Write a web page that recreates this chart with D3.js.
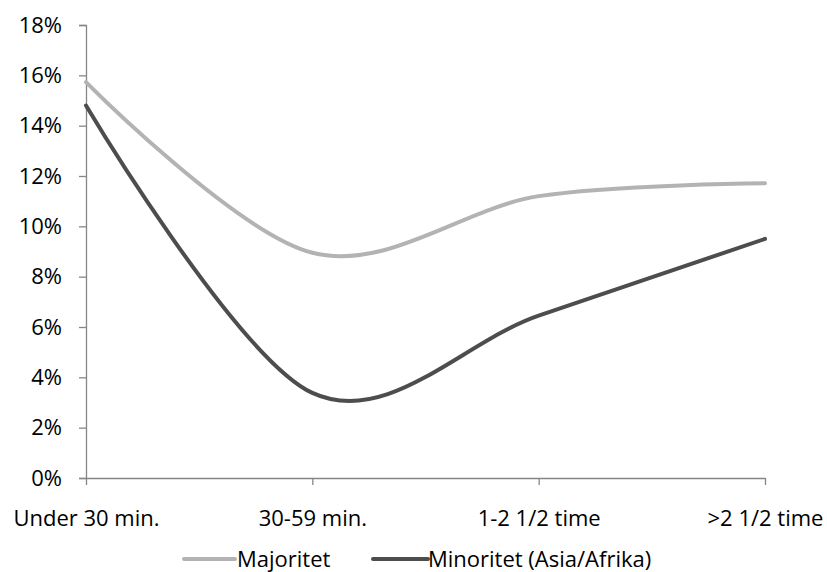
<!DOCTYPE html>
<html><head><meta charset="utf-8">
<script src="https://cdn.jsdelivr.net/npm/d3@7"></script>
<style>body{margin:0;background:#fff}svg{display:block}text{font-family:"Open Sans",sans-serif;fill:#000}</style>
</head><body>
<svg id="c" width="827" height="572"></svg>
<script>
const categories = ["Under 30 min.", "30-59 min.", "1-2 1/2 time", ">2 1/2 time"];
const majoritet = [15.73, 8.95, 11.2, 11.71];
const minoritet = [14.8, 3.38, 6.45, 9.5];
const yTicks = [0, 2, 4, 6, 8, 10, 12, 14, 16, 18];
const seriesNames = ["Majoritet", "Minoritet (Asia/Afrika)"];
const seriesColors = ["#b3b3b3", "#4d4d4d"];

(function () {
const svg = d3.select("#c");
const mLeft = 86, mRight = 765, mTop = 25, mBottom = 478;
const fs = "22px";
const x = d3.scalePoint().domain(categories).range([mLeft, mRight]);
const y = d3.scaleLinear().domain([0, 18]).range([mBottom, mTop]);
const axisColor = "#868686";

const ya = svg.append("g").attr("transform", `translate(${mLeft},0)`)
  .call(d3.axisLeft(y).tickValues(yTicks).tickFormat(d => d + "%").tickSize(7).tickPadding(17));
ya.select(".domain").attr("stroke", axisColor).attr("stroke-width", 1.3);
ya.selectAll(".tick line").attr("stroke", axisColor).attr("stroke-width", 1.3);
ya.selectAll("text").style("font-size", fs).attr("fill", "#000");

const xa = svg.append("g").attr("transform", `translate(0,${mBottom})`)
  .call(d3.axisBottom(x).tickSize(7).tickSizeOuter(0).tickPadding(26));
xa.select(".domain").attr("stroke", axisColor).attr("stroke-width", 1.3);
xa.selectAll(".tick line").attr("stroke", axisColor).attr("stroke-width", 1.3);
xa.selectAll("text").style("font-size", fs).attr("fill", "#000").attr("y", 48).attr("dy", null);

const line = d3.line().x((d, i) => x(categories[i])).y(d => y(d)).curve(d3.curveCardinal.tension(0));
[majoritet, minoritet].forEach((s, k) => {
  svg.append("path").attr("d", line(s)).attr("fill", "none")
    .attr("stroke", seriesColors[k]).attr("stroke-width", 4).attr("stroke-linecap", "round").attr("stroke-linejoin", "round");
});

const legend = [{x1: 184, x2: 235, tx: 237}, {x1: 373, x2: 428, tx: 428}];
seriesNames.forEach((n, k) => {
  svg.append("line").attr("x1", legend[k].x1).attr("x2", legend[k].x2).attr("y1", 559).attr("y2", 559)
    .attr("stroke", seriesColors[k]).attr("stroke-width", 4).attr("stroke-linecap", "round");
  svg.append("text").attr("x", legend[k].tx).attr("y", 567).style("font-size", fs).text(n);
});
})();
</script>
</body></html>
